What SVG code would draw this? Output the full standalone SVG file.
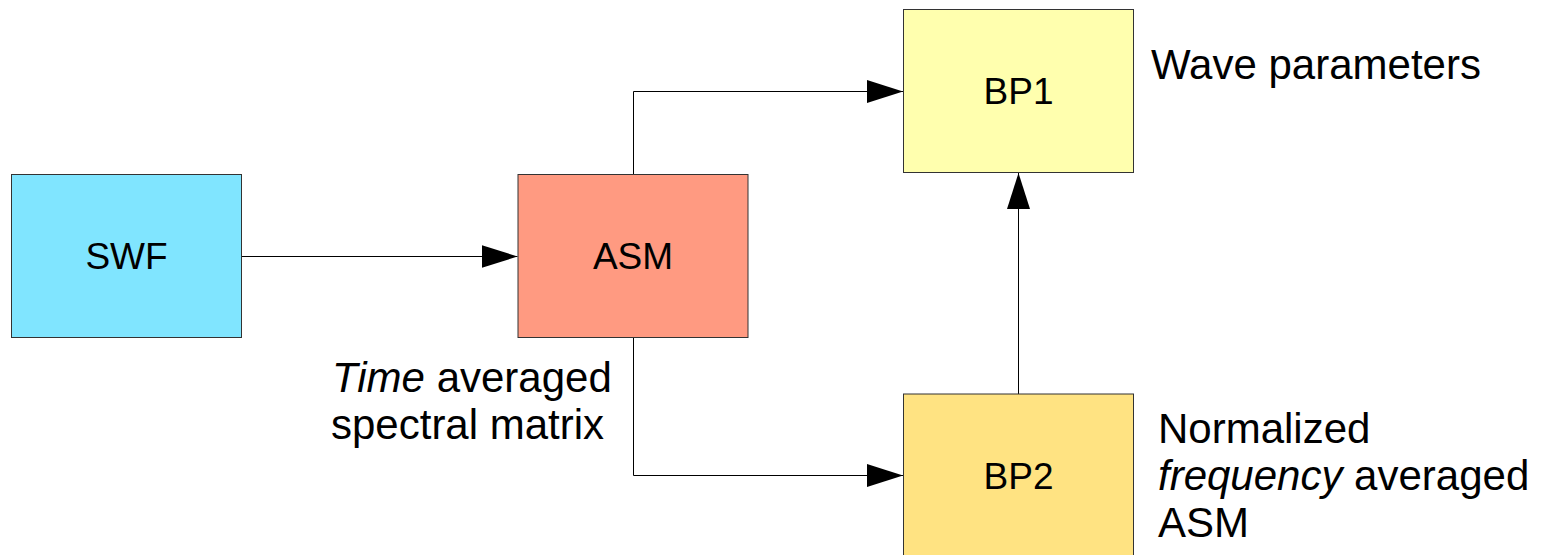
<svg xmlns="http://www.w3.org/2000/svg" width="1547" height="555" viewBox="0 0 1547 555">
  <style>
    .box { stroke: #333333; stroke-width: 1; }
    .lbl { font-family: "Liberation Sans", Arial, sans-serif; font-size: 37px; fill: #000; text-anchor: middle; }
    .note { font-family: "Liberation Sans", Arial, sans-serif; font-size: 42px; fill: #000; }
    .wire { fill: none; stroke: #000; stroke-width: 1; }
  </style>
  <defs>
    <marker id="arrow" markerUnits="userSpaceOnUse" markerWidth="36" markerHeight="23" refX="36" refY="11.5" orient="auto">
      <path d="M0,0 L36,11.5 L0,23 Z" fill="#000"/>
    </marker>
  </defs>
  <rect width="1547" height="555" fill="#ffffff"/>

  <g id="connectors">
    <path class="wire" d="M241.5,256.5 H517.5" marker-end="url(#arrow)"/>
    <path class="wire" d="M633.5,174.5 V91.5 H903" marker-end="url(#arrow)"/>
    <path class="wire" d="M633.5,337.5 V475.5 H903" marker-end="url(#arrow)"/>
    <path class="wire" d="M1018.5,394 V173" marker-end="url(#arrow)"/>
  </g>

  <g id="swf">
    <rect class="box" x="11.5" y="174.5" width="230" height="163" fill="#80e5ff"/>
    <text class="lbl" x="126.5" y="269">SWF</text>
  </g>

  <g id="asm">
    <rect class="box" x="518" y="174.5" width="230" height="163" fill="#ff9a81"/>
    <text class="lbl" x="633" y="269">ASM</text>
  </g>

  <g id="bp1">
    <rect class="box" x="903.5" y="9.5" width="230" height="163" fill="#ffffae"/>
    <text class="lbl" x="1018.5" y="104">BP1</text>
  </g>

  <g id="bp2">
    <rect class="box" x="903.5" y="394" width="230" height="163" fill="#ffe382"/>
    <text class="lbl" x="1018.5" y="489">BP2</text>
  </g>

  <g id="notes">
    <text class="note" x="1151" y="79">Wave parameters</text>
    <text class="note" x="332" y="392"><tspan font-style="italic">Time</tspan> averaged</text>
    <text class="note" x="331" y="439">spectral matrix</text>
    <text class="note" x="1158" y="443">Normalized</text>
    <text class="note" x="1158" y="490"><tspan font-style="italic">frequency</tspan> averaged</text>
    <text class="note" x="1158" y="537">ASM</text>
  </g>
</svg>
